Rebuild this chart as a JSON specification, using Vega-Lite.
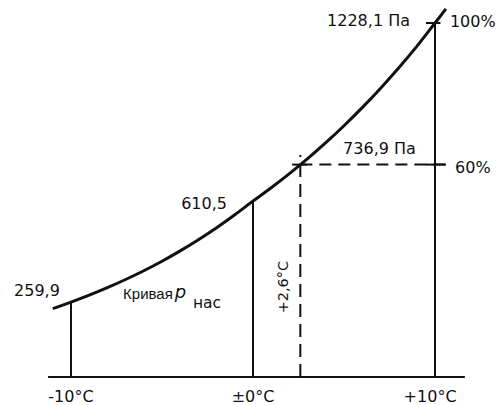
{
  "$schema": "https://vega.github.io/schema/vega-lite/v6.json",
  "width": 499,
  "height": 405,
  "padding": 0,
  "autosize": {"type": "none"},
  "background": "white",
  "config": {"view": {"stroke": null}, "text": {"font": "DejaVu Sans", "fontSize": 16, "color": "#111"}},
  "datasets": {
    "curve": [
      {"t": -11, "p": 237.3}, {"t": -10, "p": 259.9}, {"t": -9, "p": 284.1}, {"t": -8, "p": 310.1},
      {"t": -7, "p": 338.3}, {"t": -6, "p": 368.7}, {"t": -5, "p": 401.7}, {"t": -4, "p": 437.5},
      {"t": -3, "p": 476.1}, {"t": -2, "p": 517.7}, {"t": -1, "p": 562.7}, {"t": 0, "p": 610.5},
      {"t": 1, "p": 656.6}, {"t": 2, "p": 705.5}, {"t": 3, "p": 757.5}, {"t": 4, "p": 812.9},
      {"t": 5, "p": 871.8}, {"t": 6, "p": 934.5}, {"t": 7, "p": 1001.2}, {"t": 8, "p": 1072.0},
      {"t": 9, "p": 1147.2}, {"t": 10, "p": 1228.1}, {"t": 10.6, "p": 1277}
    ],
    "verticals": [
      {"t": -10, "p0": 0, "p1": 259.9},
      {"t": 0, "p0": 0, "p1": 610.5},
      {"t": 10, "p0": 0, "p1": 1228.1}
    ],
    "centerLabels": [
      {"label": "259,9", "t": -11.87, "p": 298},
      {"label": "610,5", "t": -2.69, "p": 600},
      {"label": "-10°C", "t": -10, "p": -69},
      {"label": "±0°C", "t": 0, "p": -69},
      {"label": "+10°C", "t": 9.73, "p": -69}
    ],
    "leftLabels": [
      {"label": "1228,1  Па", "t": 4.07, "p": 1235},
      {"label": "100%", "t": 10.82, "p": 1232},
      {"label": "736,9 Па", "t": 4.95, "p": 791},
      {"label": "60%", "t": 11.1, "p": 725}
    ]
  },
  "encoding": {
    "x": {"type": "quantitative", "scale": {"domain": [-13.901, 13.516], "nice": false, "zero": false}, "axis": null},
    "y": {"type": "quantitative", "scale": {"domain": [-97.1, 1307.9], "nice": false, "zero": false}, "axis": null}
  },
  "layer": [
    {
      "data": {"values": [{"a": -11.26, "b": 11.64, "p": 0}]},
      "mark": {"type": "rule", "strokeWidth": 2, "color": "#111"},
      "encoding": {"x": {"field": "a"}, "x2": {"field": "b"}, "y": {"field": "p"}}
    },
    {
      "data": {"name": "verticals"},
      "mark": {"type": "rule", "strokeWidth": 2, "color": "#111"},
      "encoding": {"x": {"field": "t"}, "y": {"field": "p0"}, "y2": {"field": "p1"}}
    },
    {
      "data": {"values": [{"t": 2.6, "p0": 0, "p1": 770}]},
      "mark": {"type": "rule", "strokeWidth": 2, "color": "#111", "strokeDash": [13, 7]},
      "encoding": {"x": {"field": "t"}, "y": {"field": "p0"}, "y2": {"field": "p1"}}
    },
    {
      "data": {"values": [{"a": 2.6, "b": 10.6, "p": 736.9}]},
      "mark": {"type": "rule", "strokeWidth": 2, "color": "#111", "strokeDash": [12, 7]},
      "encoding": {"x": {"field": "a"}, "x2": {"field": "b"}, "y": {"field": "p"}}
    },
    {
      "data": {"values": [{"a": 2.15, "b": 2.95, "p": 736.9}, {"a": 9.5, "b": 10.3, "p": 1228.1}, {"a": 9.5, "b": 10.6, "p": 736.9}]},
      "mark": {"type": "rule", "strokeWidth": 2, "color": "#111"},
      "encoding": {"x": {"field": "a"}, "x2": {"field": "b"}, "y": {"field": "p"}}
    },
    {
      "data": {"name": "curve"},
      "mark": {"type": "line", "strokeWidth": 3, "color": "#111", "interpolate": "monotone"},
      "encoding": {"x": {"field": "t"}, "y": {"field": "p"}}
    },
    {
      "data": {"name": "centerLabels"},
      "mark": {"type": "text", "baseline": "middle", "align": "center"},
      "encoding": {"x": {"field": "t"}, "y": {"field": "p"}, "text": {"field": "label"}}
    },
    {
      "data": {"name": "leftLabels"},
      "mark": {"type": "text", "baseline": "middle", "align": "left"},
      "encoding": {"x": {"field": "t"}, "y": {"field": "p"}, "text": {"field": "label"}}
    },
    {
      "data": {"values": [{"label": "Кривая", "t": -7.14, "p": 288}]},
      "mark": {"type": "text", "baseline": "middle", "align": "left", "font": "Liberation Sans", "fontSize": 15},
      "encoding": {"x": {"field": "t"}, "y": {"field": "p"}, "text": {"field": "label"}}
    },
    {
      "data": {"values": [{"label": "нас", "t": -3.3, "p": 258}]},
      "mark": {"type": "text", "baseline": "middle", "align": "left", "fontSize": 15.5},
      "encoding": {"x": {"field": "t"}, "y": {"field": "p"}, "text": {"field": "label"}}
    },
    {
      "data": {"values": [{"label": "p", "t": -4.3, "p": 290}]},
      "mark": {"type": "text", "baseline": "middle", "align": "left", "fontStyle": "italic", "fontSize": 18},
      "encoding": {"x": {"field": "t"}, "y": {"field": "p"}, "text": {"field": "label"}}
    },
    {
      "data": {"values": [{"label": "+2,6°C", "t": 1.7, "p": 312}]},
      "mark": {"type": "text", "baseline": "middle", "align": "center", "angle": 270, "fontSize": 14.5},
      "encoding": {"x": {"field": "t"}, "y": {"field": "p"}, "text": {"field": "label"}}
    }
  ]
}
